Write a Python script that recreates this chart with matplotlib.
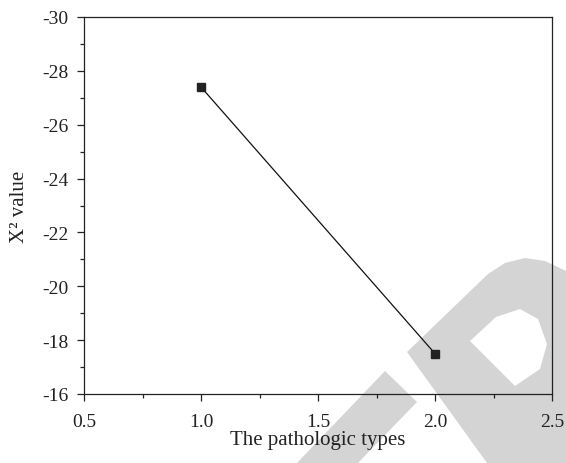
# X^2 value vs pathologic types

import matplotlib
matplotlib.use('Agg')
import matplotlib.pyplot as plt
from matplotlib.path import Path
from matplotlib.patches import PathPatch
from matplotlib.ticker import MultipleLocator

types = [1.0, 2.0]
x2_values = [-27.4, -17.5]

x_ticks = [0.5, 1.0, 1.5, 2.0, 2.5]
y_ticks = [-30, -28, -26, -24, -22, -20, -18, -16]

plt.rcParams['font.family'] = ['Liberation Serif', 'DejaVu Serif']
plt.rcParams['axes.unicode_minus'] = False

W, H = 566, 464
fig = plt.figure(figsize=(W / 100, H / 100), dpi=100, facecolor='w')


# light grey watermark in the lower right, drawn in figure pixels
def px(points):
    return [(x / W, (H - y) / H) for x, y in points]


grey = '#d4d4d4'
band = px([(297, 464), (385, 372), (417, 403), (358, 464), (297, 464)])
fig.patches.append(PathPatch(Path(band, closed=True), transform=fig.transFigure,
                             facecolor=grey, edgecolor='none', zorder=-1))

outer = px([(407, 353), (488, 275), (505, 264), (525, 259), (545, 262),
            (566, 272), (566, 464), (487, 464), (407, 353)])
hole = px([(470, 342), (496, 318), (520, 310), (538, 320), (547, 345),
           (540, 370), (515, 387), (470, 342)])
verts = outer + hole[::-1]
codes = ([Path.MOVETO] + [Path.LINETO] * (len(outer) - 2) + [Path.CLOSEPOLY]
         + [Path.MOVETO] + [Path.LINETO] * (len(hole) - 2) + [Path.CLOSEPOLY])
fig.patches.append(PathPatch(Path(verts, codes), transform=fig.transFigure,
                             facecolor=grey, edgecolor='none', zorder=-1))

ax = fig.add_axes([84 / W, (H - 395) / H, (552 - 84) / W, (395 - 18) / H])
ax.set_facecolor('none')

ax.plot(types, x2_values, '-', color='#111111', lw=0.9,
        marker='s', markersize=5.5, markerfacecolor='#222222',
        markeredgecolor='#222222')

ax.set_xlim(0.5, 2.5)
ax.set_ylim(-16, -30)
ax.set_xticks(x_ticks)
ax.set_xticklabels([f'{t:.1f}' for t in x_ticks])
ax.set_yticks(y_ticks)
ax.xaxis.set_minor_locator(MultipleLocator(0.25))
ax.yaxis.set_minor_locator(MultipleLocator(1))

ax.tick_params(which='major', direction='out', length=5, width=0.9,
               labelsize=14, colors='#222222')
ax.tick_params(which='minor', direction='out', length=3, width=0.9,
               colors='#222222')
ax.tick_params(axis='x', which='major', pad=9)
ax.tick_params(axis='y', which='major', pad=6)
for s in ax.spines.values():
    s.set_linewidth(0.9)
    s.set_color('#222222')

ax.set_xlabel('The pathologic types', fontsize=15, color='#222222', va='center')
ax.set_ylabel('X² value', fontsize=15, color='#222222', va='center')
ax.xaxis.set_label_coords(0.5, (395 - 441) / 377)
ax.yaxis.set_label_coords((20 - 84) / 468, 0.5)

fig.savefig('out.png', dpi=100)
